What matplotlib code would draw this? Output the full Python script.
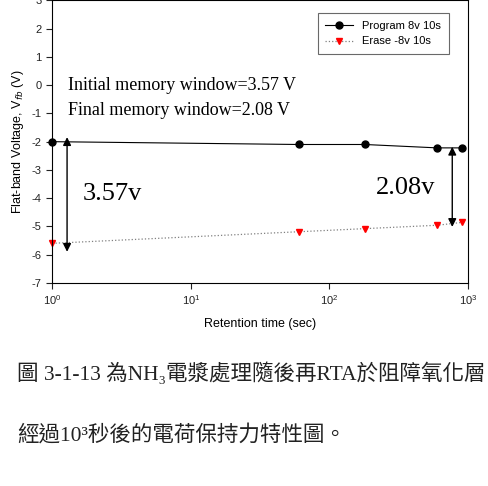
import matplotlib
matplotlib.use("Agg")
import matplotlib.pyplot as plt
import numpy as np

# retention data
times = [1, 60, 180, 600, 900]
program_vfb = [-2.00, -2.10, -2.10, -2.22, -2.22]
erase_vfb = [-5.60, -5.19, -5.08, -4.96, -4.86]

yticks = [-7, -6, -5, -4, -3, -2, -1, 0, 1, 2, 3]
xticks = [1, 10, 100, 1000]
xticklabels = ['10$^0$', '10$^1$', '10$^2$', '10$^3$']

# memory window arrows (x, y_top, y_bottom)
win_init = (1.28, -1.84, -5.90)
win_final = (770, -2.18, -5.02)

caption1 = '圖 3-1-13 為NH₃電漿處理隨後再RTA於阻障氧化層'
caption2 = '經過10³秒後的電荷保持力特性圖。'

plt.rcParams['font.family'] = ['Liberation Sans', 'DejaVu Sans']
plt.rcParams['mathtext.fontset'] = 'custom'
plt.rcParams['mathtext.rm'] = 'Liberation Sans'
plt.rcParams['axes.unicode_minus'] = False

fig = plt.figure(figsize=(4.88, 4.86), dpi=100)
ax = fig.add_axes([0.107, 0.418, 0.852, 0.581])

ax.plot(times, program_vfb, '-', color='black', lw=0.8, marker='o', ms=5,
        label='Program 8v 10s', clip_on=False)
ax.plot(times, erase_vfb, ':', color='gray', lw=0.9, marker='v', ms=4.5,
        mfc='red', mec='red', label='Erase -8v 10s', clip_on=False)

ax.set_xscale('log')
ax.set_xlim(1, 1000)
ax.set_ylim(-7, 3)
ax.set_yticks(yticks)
ax.set_xticks(xticks)
ax.set_xticklabels(xticklabels)
ax.xaxis.set_minor_locator(matplotlib.ticker.NullLocator())
ax.tick_params(labelsize=8, direction='out', length=4, width=0.8, colors='#222222')
for s in ax.spines.values():
    s.set_linewidth(0.8)

ax.set_xlabel('Retention time (sec)', fontsize=9, labelpad=8)
ax.set_ylabel('Flat-band Voltage, V$_{fb}$ (V)', fontsize=9, labelpad=4)

leg = ax.legend(loc='upper right', bbox_to_anchor=(0.967, 0.975), fontsize=8,
                frameon=True, fancybox=False, edgecolor='#444444',
                handlelength=2.5, borderpad=0.7, labelspacing=0.5)
leg.get_frame().set_linewidth(0.8)

serif = ['Liberation Serif', 'DejaVu Serif']
ax.text(1.30, 0.0, 'Initial memory window=3.57 V', family=serif, fontsize=13,
        va='center')
ax.text(1.30, -0.9, 'Final memory window=2.08 V', family=serif, fontsize=13,
        va='center')
ax.text(1.67, -3.85, '3.57v', family=serif, fontsize=19, va='center')
ax.text(217, -3.65, '2.08v', family=serif, fontsize=19, va='center')

for x, y1, y2 in (win_init, win_final):
    ax.annotate('', xy=(x, y1), xytext=(x, y2),
                arrowprops=dict(arrowstyle='<|-|>', color='black', lw=1.0,
                                mutation_scale=12, shrinkA=0, shrinkB=0))

cjk = ['Liberation Serif', 'Noto Sans CJK TC', 'DejaVu Serif']
fig.text(0.035, 0.232, caption1, family=cjk, fontsize=15.5, va='center',
         color='#222222')
fig.text(0.035, 0.104, caption2, family=cjk, fontsize=15.5, va='center',
         color='#222222')

fig.savefig('out.png', dpi=100)
